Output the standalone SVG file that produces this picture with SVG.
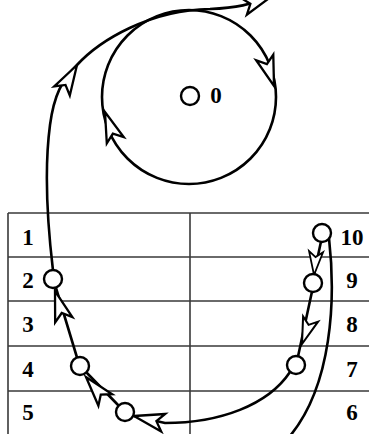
<svg xmlns="http://www.w3.org/2000/svg" xmlns:xlink="http://www.w3.org/1999/xlink" width="369" height="434" viewBox="0 0 369 434">
<style>
.tbl{stroke:#3a3a3a;stroke-width:1.6;fill:none}
.ln{stroke:#000;stroke-width:2.6;fill:none;stroke-linecap:round}
.nd{stroke:#000;stroke-width:2.4;fill:#fff}
.ah{stroke:#000;stroke-width:2.3;fill:#fff;stroke-linejoin:miter}
.lb{font-family:"Liberation Serif","DejaVu Serif",serif;font-weight:bold;font-size:23px;fill:#000}
</style>
<defs>
<path id="ah" d="M0,0 L-30,-9 L-23,0 L-30,9 Z"/>
</defs>
<rect width="369" height="434" fill="#fff"/>
<g id="table">
<path class="tbl" d="M8,213 H369 M8,257 H369 M8,301 H369 M8,346 H369 M8,391 H369 M8,213 V434 M190,213 V434"/>
</g>
<g id="row-labels">
<text class="lb" x="28" y="245" text-anchor="middle">1</text>
<text class="lb" x="28" y="288" text-anchor="middle">2</text>
<text class="lb" x="28" y="332" text-anchor="middle">3</text>
<text class="lb" x="28" y="377" text-anchor="middle">4</text>
<text class="lb" x="28" y="420" text-anchor="middle">5</text>
<text class="lb" x="352" y="245" text-anchor="middle">10</text>
<text class="lb" x="352" y="288" text-anchor="middle">9</text>
<text class="lb" x="352" y="332" text-anchor="middle">8</text>
<text class="lb" x="352" y="377" text-anchor="middle">7</text>
<text class="lb" x="352" y="420" text-anchor="middle">6</text>
</g>
<g id="connectors">
<circle class="ln" cx="189" cy="97" r="87"/>
<path class="ln" d="M53,270.5 C47,220 44,170 50,125 C54,95 62,80 77,65 C100,40 150,10 210,9 C235,8 252,5 272,-5"/>
<path class="ln" d="M77,357.5 L56,288"/>
<path class="ln" d="M119,406 L86,372"/>
<path class="ln" d="M290,372 C268,405 220,423 165,423 L134,416"/>
<path class="ln" d="M312,291.5 L298,356.5"/>
<path class="ln" d="M321,241.5 L314,274.5"/>
<path class="ln" d="M329,238 C336,300 332,385 290,436"/>
<use href="#ah" class="ah" transform="translate(274,86) rotate(72)"/>
<use href="#ah" class="ah" transform="translate(105,112) rotate(250)"/>
<use href="#ah" class="ah" transform="translate(77,65) rotate(-60)"/>
<use href="#ah" class="ah" transform="translate(272,-4) rotate(-20)"/>
<use href="#ah" class="ah" transform="translate(314,275) rotate(95) scale(0.78)"/>
<use href="#ah" class="ah" transform="translate(302,344) rotate(109) scale(0.88)"/>
<use href="#ah" class="ah" transform="translate(134,416) rotate(193)"/>
<use href="#ah" class="ah" transform="translate(86,377) rotate(230)"/>
<use href="#ah" class="ah" transform="translate(55,291) rotate(253)"/>
</g>
<g id="node-0"><circle class="nd" cx="190" cy="96" r="9"/><text class="lb" x="216" y="103" text-anchor="middle">0</text></g>
<g id="node-2"><circle class="nd" cx="53" cy="279" r="9"/></g>
<g id="node-4"><circle class="nd" cx="80" cy="366" r="9"/></g>
<g id="node-6"><circle class="nd" cx="125" cy="412" r="9"/></g>
<g id="node-7"><circle class="nd" cx="296" cy="365" r="9"/></g>
<g id="node-9"><circle class="nd" cx="313" cy="283" r="9"/></g>
<g id="node-10"><circle class="nd" cx="322" cy="233" r="9"/></g>
</svg>
